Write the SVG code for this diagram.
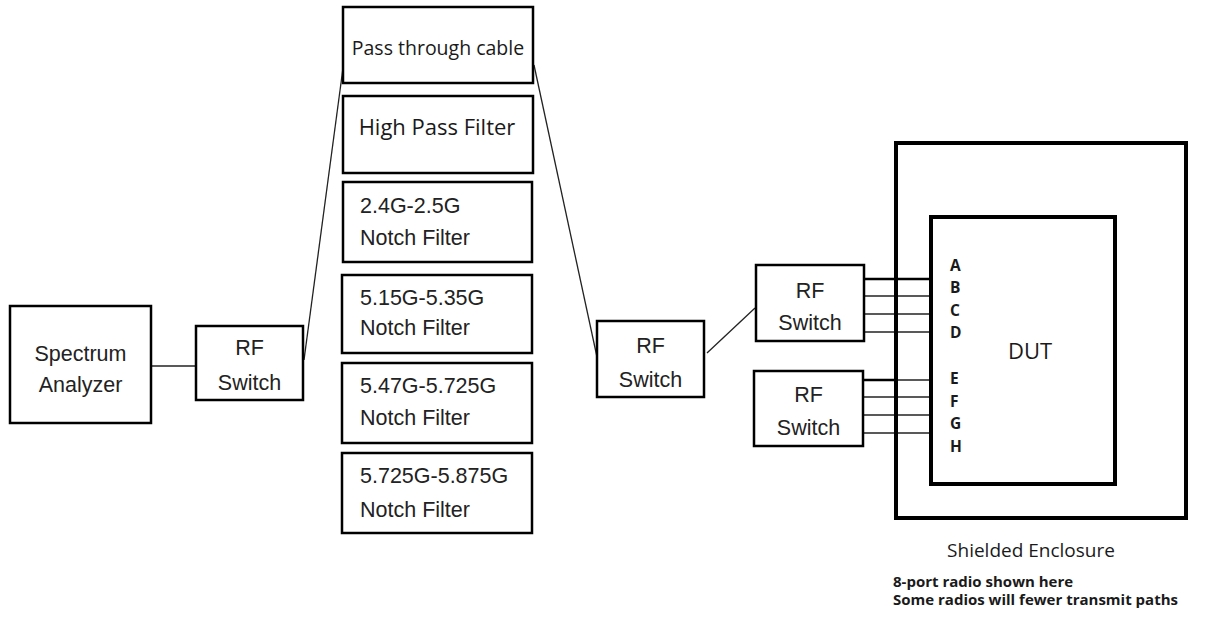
<svg xmlns="http://www.w3.org/2000/svg" width="1220" height="625" viewBox="0 0 1220 625">
<style>
.box{fill:#fff;stroke:#000;stroke-width:2.5}
.thick{fill:none;stroke:#000;stroke-width:4}
.arial{font-family:"Liberation Sans",Arial,sans-serif;font-size:21.5px;fill:#222}
.cal{font-family:"Open Sans","Liberation Sans",sans-serif;fill:#1a1a1a}
.lbl{font-family:"Open Sans","Liberation Sans",sans-serif;font-weight:bold;font-size:15.5px;fill:#1a1a1a}
.wire{stroke:#222;stroke-width:1.3;fill:none}
.wireb{stroke:#000;stroke-width:2.5;fill:none}
</style>
<rect width="1220" height="625" fill="#fff"/>
<g id="connectors">
<line class="wire" x1="152" y1="366" x2="196" y2="366"/>
<line class="wire" x1="304" y1="360" x2="343" y2="68"/>
<line class="wire" x1="534" y1="65" x2="597" y2="357"/>
<line class="wire" x1="707" y1="353" x2="755" y2="308"/>
<line class="wireb" x1="864" y1="279" x2="930" y2="279"/>
<line class="wire" x1="864" y1="296" x2="930" y2="296"/>
<line class="wire" x1="864" y1="314" x2="930" y2="314"/>
<line class="wire" x1="864" y1="332" x2="930" y2="332"/>
<line class="wireb" x1="863" y1="380" x2="896" y2="380"/>
<line class="wire" x1="896" y1="380" x2="930" y2="380"/>
<line class="wire" x1="863" y1="397" x2="930" y2="397"/>
<line class="wire" x1="863" y1="415" x2="930" y2="415"/>
<line class="wire" x1="863" y1="433" x2="930" y2="433"/>
</g>
<g id="enclosure">
<rect class="thick" x="896" y="143" width="290" height="375"/>
<text class="cal" x="1031" y="557" font-size="19" text-anchor="middle">Shielded Enclosure</text>
</g>
<g id="dut">
<rect class="thick" x="931" y="217" width="184" height="267"/>
<text class="cal" x="1030" y="359" font-size="22" text-anchor="middle">DUT</text>
<text class="lbl" x="950" y="271">A</text>
<text class="lbl" x="950" y="293">B</text>
<text class="lbl" x="950" y="316">C</text>
<text class="lbl" x="950" y="338">D</text>
<text class="lbl" x="950" y="384">E</text>
<text class="lbl" x="950" y="407">F</text>
<text class="lbl" x="950" y="429">G</text>
<text class="lbl" x="950" y="452">H</text>
</g>
<g id="spectrum-analyzer">
<rect class="box" x="10" y="306" width="141" height="117"/>
<text class="arial" x="80.5" y="361" text-anchor="middle">Spectrum</text>
<text class="arial" x="80.5" y="392" text-anchor="middle">Analyzer</text>
</g>
<g id="rf-switch-1">
<rect class="box" x="196" y="326" width="107" height="74"/>
<text class="arial" x="249.5" y="355" text-anchor="middle">RF</text>
<text class="arial" x="249.5" y="390" text-anchor="middle">Switch</text>
</g>
<g id="pass-through">
<rect class="box" x="343" y="7" width="190" height="76"/>
<text class="cal" x="438" y="55" font-size="19.5" text-anchor="middle">Pass through cable</text>
</g>
<g id="high-pass">
<rect class="box" x="343" y="96" width="190" height="77"/>
<text class="cal" x="437" y="135" font-size="22" text-anchor="middle">High Pass Filter</text>
</g>
<g id="notch-1">
<rect class="box" x="343" y="182" width="189" height="80"/>
<text class="arial" x="360" y="213">2.4G-2.5G</text>
<text class="arial" x="360" y="245">Notch Filter</text>
</g>
<g id="notch-2">
<rect class="box" x="342" y="275" width="190" height="78"/>
<text class="arial" x="360" y="305">5.15G-5.35G</text>
<text class="arial" x="360" y="335">Notch Filter</text>
</g>
<g id="notch-3">
<rect class="box" x="342" y="363" width="190" height="80"/>
<text class="arial" x="360" y="393">5.47G-5.725G</text>
<text class="arial" x="360" y="425">Notch Filter</text>
</g>
<g id="notch-4">
<rect class="box" x="342" y="453" width="190" height="80"/>
<text class="arial" x="360" y="483">5.725G-5.875G</text>
<text class="arial" x="360" y="517">Notch Filter</text>
</g>
<g id="rf-switch-2">
<rect class="box" x="597" y="321" width="107" height="76"/>
<text class="arial" x="650.5" y="353" text-anchor="middle">RF</text>
<text class="arial" x="650.5" y="387" text-anchor="middle">Switch</text>
</g>
<g id="rf-switch-3">
<rect class="box" x="756" y="265" width="108" height="76"/>
<text class="arial" x="810" y="298" text-anchor="middle">RF</text>
<text class="arial" x="810" y="330" text-anchor="middle">Switch</text>
</g>
<g id="rf-switch-4">
<rect class="box" x="754" y="371" width="109" height="75"/>
<text class="arial" x="808.5" y="402" text-anchor="middle">RF</text>
<text class="arial" x="808.5" y="435" text-anchor="middle">Switch</text>
</g>
<g id="note">
<text class="cal" x="893" y="587" font-size="15" font-weight="bold">8-port radio shown here</text>
<text class="cal" x="893" y="605" font-size="15" font-weight="bold">Some radios will fewer transmit paths</text>
</g>
</svg>
